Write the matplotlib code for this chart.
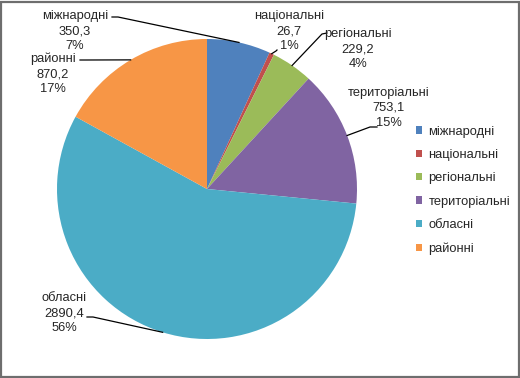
import matplotlib.pyplot as plt
import matplotlib.patches as mpatches
import numpy as np

names = ["міжнародні", "національні", "регіональні", "територіальні", "обласні", "районні"]
values = [350.3, 26.7, 229.2, 753.1, 2890.4, 870.2]
value_labels = ["350,3", "26,7", "229,2", "753,1", "2890,4", "870,2"]
pct_labels = ["7%", "1%", "4%", "15%", "56%", "17%"]
colors = ["#4F81BD", "#C0504D", "#9BBB59", "#8064A2", "#4BACC6", "#F79646"]

W, H = 520, 378
plt.rcParams['font.family'] = ['Liberation Sans', 'DejaVu Sans']

fig = plt.figure(figsize=(W / 100, H / 100), dpi=100)
ax = fig.add_axes([0, 0, 1, 1])

cx, cy, r = 207, H - 189, 150
wedges, _ = ax.pie(values, colors=colors, startangle=90, counterclock=False,
                   center=(cx, cy), radius=r, wedgeprops=dict(linewidth=0),
                   frame=True)
ax.set_xlim(0, W)
ax.set_ylim(0, H)
ax.set_aspect('equal')
ax.axis('off')

# label centres and leader start points (pixel coords, y from top)
label_pos = [(75, 31), (289, 31), (358, 49), (389, 108), (64, 313), (53, 74)]
leader_start = [(112, 17), (277, 50), (327, 33), (377, 127), (87, 317), (80, 60)]
bend = [(118, 17), (276, 51), (322, 34), (370, 127), (93, 317), (86, 60)]

frac = np.cumsum(values) / sum(values)
starts = np.concatenate([[0], frac[:-1]])
for i, n in enumerate(names):
    mid = (starts[i] + frac[i]) / 2 * 2 * np.pi
    ex = cx + r * np.sin(mid)
    ey = cy + r * np.cos(mid)
    lx, ly = label_pos[i]
    ax.text(lx, H - ly, n + "\n" + value_labels[i] + "\n" + pct_labels[i],
            ha='center', va='center', fontsize=9.3, color='#262626', linespacing=1.35)
    sx, sy = leader_start[i]
    bx, by = bend[i]
    ax.plot([sx, bx, ex], [H - sy, H - by, ey], color='black', lw=0.9)

leg = ax.legend(wedges, names, loc='upper left', bbox_to_anchor=(404 / W, 1 - 114 / H),
                bbox_transform=fig.transFigure, frameon=False, fontsize=9.3,
                handlelength=0.5, handleheight=0.5, handletextpad=0.5, labelspacing=0.88)
for t in leg.get_texts():
    t.set_color('#262626')

fig.patches.append(mpatches.Rectangle((1 / W, 1 / H), 1 - 2.5 / W, 1 - 2.5 / H,
                                      transform=fig.transFigure, fill=False,
                                      edgecolor='#6e6e6e', linewidth=1.6))

fig.savefig("out.png", dpi=100)
